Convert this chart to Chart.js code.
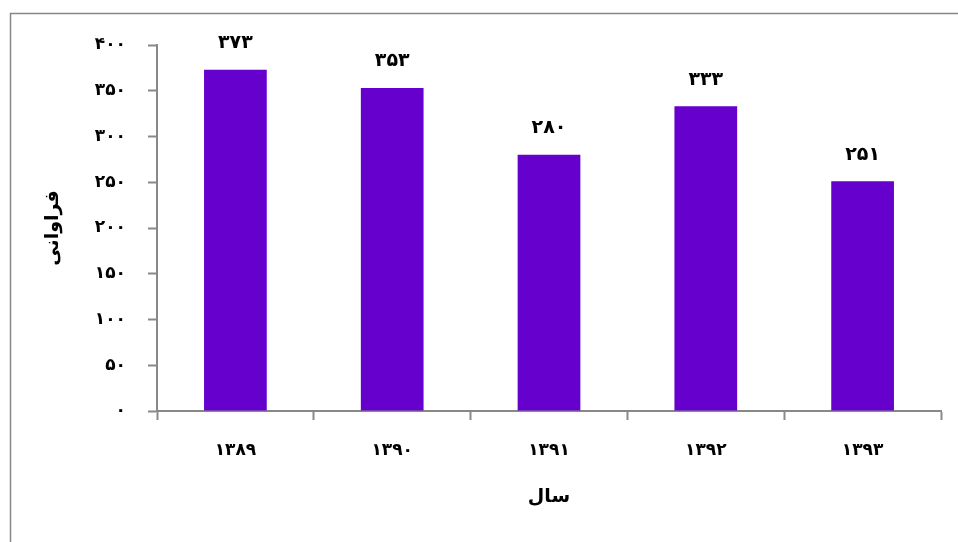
<!DOCTYPE html>
<html>
<head>
<meta charset="utf-8">
<script src="https://cdn.jsdelivr.net/npm/chart.js@4/dist/chart.umd.min.js"></script>
<style>
  html, body { margin: 0; padding: 0; background: #fff; }
  #wrap { width: 958px; height: 542px; }
</style>
</head>
<body>
<div id="wrap"><canvas id="chart" width="958" height="542"></canvas></div>
<script>
const years = ["۱۳۸۹", "۱۳۹۰", "۱۳۹۱", "۱۳۹۲", "۱۳۹۳"];
const counts = [373, 353, 280, 333, 251];
const yTicks = [0, 50, 100, 150, 200, 250, 300, 350, 400];

const faDigits = "۰۱۲۳۴۵۶۷۸۹";
function toFa(n) {
    return String(n).replace(/[0-9]/g, d => faDigits[d]);
}

const fontFamily = "'DejaVu Sans', sans-serif";
const axisGray = "#888888";

// outer frame, like the one around the original chart
const framePlugin = {
    id: "frame",
    beforeDraw(chart) {
        const ctx = chart.ctx;
        ctx.save();
        ctx.strokeStyle = "#878787";
        ctx.lineWidth = 1.5;
        ctx.strokeRect(10.5, 13.5, 1000, 600);
        ctx.restore();
    }
};

// value labels above the bars
const valueLabels = {
    id: "valueLabels",
    afterDatasetsDraw(chart) {
        const ctx = chart.ctx;
        const meta = chart.getDatasetMeta(0);
        ctx.save();
        ctx.font = "bold 19px " + fontFamily;
        ctx.fillStyle = "#000";
        ctx.textAlign = "center";
        ctx.textBaseline = "bottom";
        meta.data.forEach((bar, i) => {
            ctx.fillText(toFa(counts[i]), bar.x, bar.y - 17);
        });
        ctx.restore();
    }
};

new Chart(document.getElementById("chart").getContext("2d"), {
    type: "bar",
    data: {
        labels: years,
        datasets: [{
            data: counts,
            backgroundColor: "#6600CC",
            borderWidth: 0,
            barPercentage: 0.4,
            categoryPercentage: 1.0
        }]
    },
    options: {
        responsive: false,
        animation: false,
        events: [],
        layout: { padding: { top: 45, right: 17, left: 0, bottom: 0 } },
        plugins: { legend: { display: false }, tooltip: { enabled: false } },
        scales: {
            x: {
                afterFit: s => { s.height = 131; },
                grid: { drawOnChartArea: false, tickLength: 9, tickColor: axisGray, tickWidth: 2, offset: true },
                border: { color: axisGray, width: 2 },
                ticks: { color: "#000", padding: 20, font: { family: fontFamily, size: 17, weight: "bold" } },
                title: { display: true, text: "سال", color: "#000", padding: { top: 0, bottom: 34 }, font: { family: fontFamily, size: 19, weight: "bold" } }
            },
            y: {
                min: 0,
                max: 400,
                afterFit: s => { s.width = 157; },
                afterBuildTicks: s => { s.ticks = yTicks.map(v => ({ value: v })); },
                grid: { drawOnChartArea: false, tickLength: 9, tickColor: axisGray, tickWidth: 2 },
                border: { color: axisGray, width: 2 },
                ticks: { color: "#000", padding: 22, callback: v => toFa(v), font: { family: fontFamily, size: 17, weight: "bold" } },
                title: { display: true, text: "فراوانی", color: "#000", padding: { top: 42, bottom: 0 }, font: { family: fontFamily, size: 19, weight: "bold" } }
            }
        }
    },
    plugins: [framePlugin, valueLabels]
});
</script>
</body>
</html>
